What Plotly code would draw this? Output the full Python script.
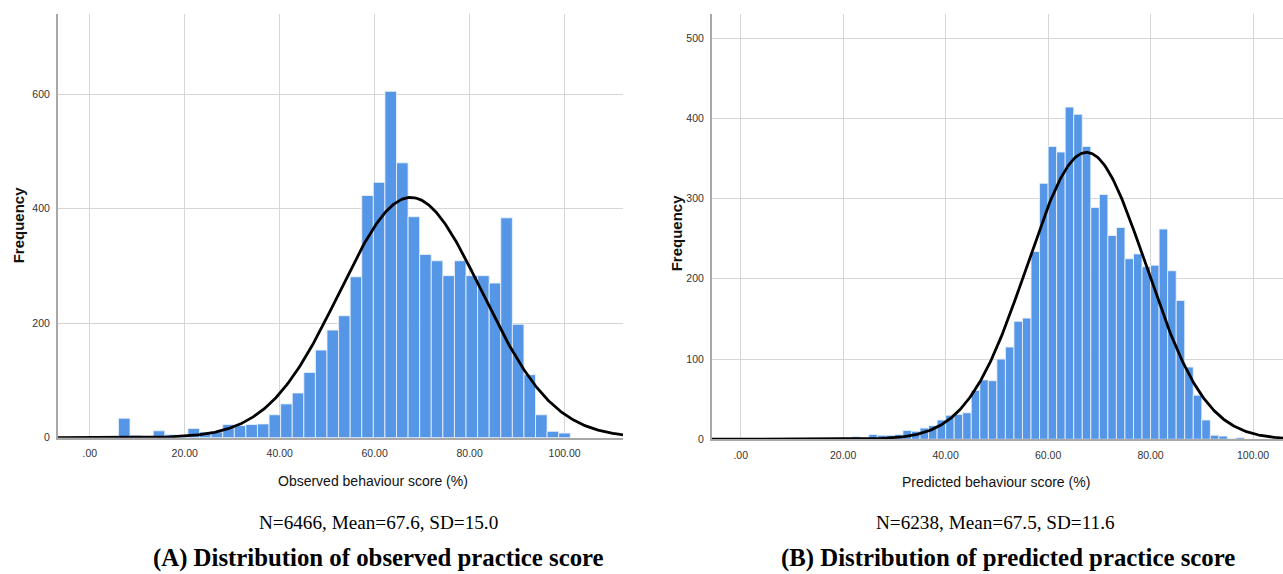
import numpy as np
import plotly.graph_objects as go

# ---------------- data ----------------
# Panel A: observed behaviour score histogram
obs_bin_start = 6.04
obs_bin_width = 2.44
obs_counts = [34, 4, 1, 12, 5, 4, 16, 10, 10, 23, 21, 23, 24, 40, 59, 78, 114,
              153, 188, 213, 281, 423, 446, 605, 480, 386, 320, 309, 283, 309,
              283, 283, 270, 384, 198, 110, 40, 11, 8]
obs_N, obs_mean, obs_sd = 6466, 67.6, 15.0

# Panel B: predicted behaviour score histogram
pred_bin_start = 21.667
pred_bin_width = 1.6667
pred_counts = [3, 1, 6, 5, 5, 6, 11, 10, 14, 17, 24, 30, 31, 33, 61, 74, 73,
               100, 115, 147, 151, 234, 319, 365, 358, 414, 405, 365, 289, 305,
               254, 264, 225, 231, 215, 217, 262, 210, 173, 90, 55, 24, 5, 4,
               1, 2]
pred_N, pred_mean, pred_sd = 6238, 67.5, 11.6

x_tickvals = [0, 20, 40, 60, 80, 100]
x_ticktext = [".00", "20.00", "40.00", "60.00", "80.00", "100.00"]
obs_y_ticks = [0, 200, 400, 600]
pred_y_ticks = [0, 100, 200, 300, 400, 500]

obs_xlabel = "Observed behaviour score (%)"
pred_xlabel = "Predicted behaviour score (%)"
obs_caption = "(A) Distribution of observed practice score"
pred_caption = "(B) Distribution of predicted practice score"

# ---------------- styling ----------------
W, H = 1283, 574
VK = 1.0121  # vertical calibration of pixel targets
BAR_COLOR = "#5596e6"
GRID = "#d6d6d6"
AXIS = "#a8a8a8"
NARROW = "Liberation Sans Narrow, Arial Narrow, Liberation Sans, Arial, sans-serif"
SANS = "Liberation Sans, Arial, sans-serif"
SERIF = "Liberation Serif, Times New Roman, serif"

obs_xrange = [-6.69, 112.3]
pred_xrange = [-5.6, 105.85]
obs_yrange = [0, 740]
pred_yrange = [0, 530]


def px_x(p):
    return p / W


def px_y(p):
    return 1 - (p * VK) / H


def normal_curve(N, mean, sd, bw, xr):
    xs = np.linspace(xr[0], xr[1], 500)
    ys = N * bw * np.exp(-0.5 * ((xs - mean) / sd) ** 2) / (sd * np.sqrt(2 * np.pi))
    return xs, ys


fig = go.Figure()

obs_centers = [obs_bin_start + (i + 0.5) * obs_bin_width for i in range(len(obs_counts))]
fig.add_trace(go.Bar(x=obs_centers, y=obs_counts, width=obs_bin_width,
                     marker=dict(color=BAR_COLOR, line=dict(color="rgba(235,242,252,0.85)", width=1)),
                     xaxis="x", yaxis="y", showlegend=False))
cx, cy = normal_curve(obs_N, obs_mean, obs_sd, obs_bin_width, obs_xrange)
fig.add_trace(go.Scatter(x=cx, y=cy, mode="lines", line=dict(color="black", width=2.8),
                         xaxis="x", yaxis="y", showlegend=False, cliponaxis=False))

pred_centers = [pred_bin_start + (i + 0.5) * pred_bin_width for i in range(len(pred_counts))]
fig.add_trace(go.Bar(x=pred_centers, y=pred_counts, width=pred_bin_width,
                     marker=dict(color=BAR_COLOR, line=dict(color="rgba(235,242,252,0.85)", width=1)),
                     xaxis="x2", yaxis="y2", showlegend=False))
cx2, cy2 = normal_curve(pred_N, pred_mean, pred_sd, pred_bin_width, pred_xrange)
fig.add_trace(go.Scatter(x=cx2, y=cy2, mode="lines", line=dict(color="black", width=2.8),
                         xaxis="x2", yaxis="y2", showlegend=False, cliponaxis=False))

common_x = dict(tickvals=x_tickvals, ticktext=x_ticktext, showgrid=True, gridcolor=GRID,
                gridwidth=1.3, zeroline=False, showline=True, linecolor=AXIS, linewidth=1.5,
                ticks="", tickfont=dict(family=NARROW, size=10.5, color="#333333"),
                ticklabelstandoff=5, fixedrange=True)
common_y = dict(showgrid=True, gridcolor=GRID, gridwidth=1.3, zeroline=False,
                showline=True, linecolor=AXIS, linewidth=2, ticks="",
                tickfont=dict(family=NARROW, size=10.5, color="#333333"),
                ticklabelstandoff=4, fixedrange=True)

fig.update_layout(
    width=W, height=H,
    margin=dict(l=0, r=0, t=0, b=0),
    paper_bgcolor="white", plot_bgcolor="white",
    barmode="overlay",
    xaxis=dict(domain=[px_x(58), px_x(623)], range=obs_xrange, anchor="y", **common_x),
    yaxis=dict(domain=[px_y(437), px_y(14)], range=obs_yrange, anchor="x",
               tickvals=obs_y_ticks, **common_y),
    xaxis2=dict(domain=[px_x(712), 1.0], range=pred_xrange, anchor="y2", **common_x),
    yaxis2=dict(domain=[px_y(438.6), px_y(14)], range=pred_yrange, anchor="x2",
                tickvals=pred_y_ticks, **common_y),
)

ann = []
ann.append(dict(text=obs_xlabel, x=px_x(373), y=px_y(480), font=dict(family=NARROW, size=14, color="#111")))
ann.append(dict(text=pred_xlabel, x=px_x(996), y=px_y(481), font=dict(family=NARROW, size=14, color="#111")))
ann.append(dict(text="<b>Frequency</b>", x=px_x(18), y=px_y(225), textangle=-90,
                font=dict(family=SANS, size=15, color="#111")))
ann.append(dict(text="<b>Frequency</b>", x=px_x(676), y=px_y(233), textangle=-90,
                font=dict(family=SANS, size=15, color="#111")))
ann.append(dict(text=f"N={obs_N}, Mean={obs_mean:.1f}, SD={obs_sd:.1f}", x=px_x(378), y=px_y(522),
                font=dict(family=SERIF, size=19.2, color="black")))
ann.append(dict(text=f"<b>{obs_caption}</b>", x=px_x(378), y=px_y(557),
                font=dict(family=SERIF, size=24.8, color="black")))
ann.append(dict(text=f"N={pred_N}, Mean={pred_mean:.1f}, SD={pred_sd:.1f}", x=px_x(995), y=px_y(522),
                font=dict(family=SERIF, size=19.2, color="black")))
ann.append(dict(text=f"<b>{pred_caption}</b>", x=px_x(1008), y=px_y(557),
                font=dict(family=SERIF, size=24.8, color="black")))

for a in ann:
    a.update(xref="paper", yref="paper", showarrow=False, xanchor="center", yanchor="middle")
fig.update_layout(annotations=ann)

post = (
    "var s='margin:0;padding:0;overflow:hidden;';"
    "document.documentElement.style.cssText=s;document.body.style.cssText=s;"
)
fig.write_html("out.html", config={"displayModeBar": False}, post_script=post)
